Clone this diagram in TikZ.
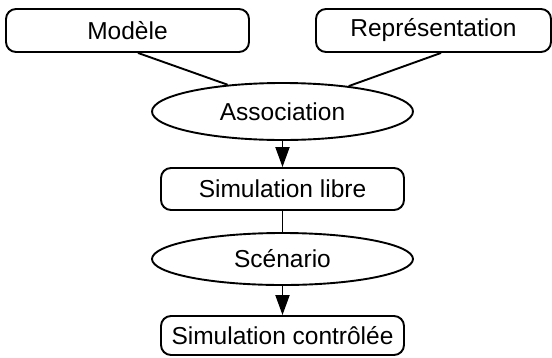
\documentclass[tikz,border=0pt]{standalone}
\usepackage{fontspec}
\setmainfont{Liberation Sans}
\usetikzlibrary{shapes.geometric,arrows.meta}
\begin{document}
\begin{tikzpicture}[x=1pt,y=-1pt,
  every node/.style={font=\fontsize{24.5}{29}\selectfont, inner sep=0pt, line width=1.9pt},
  boxnode/.style={draw, rounded corners=10pt},
  ellnode/.style={draw, ellipse},
  conn/.style={line width=1.9pt},
  arr/.style={line width=1.9pt, -{Triangle[length=20pt,width=14pt]}}]
\useasboundingbox (0,0) rectangle (552,357);
\node[boxnode, minimum width=243pt, minimum height=43pt] (mod) at (127.5,30.5) {Modèle};
\node[boxnode, minimum width=235pt, minimum height=43pt] (rep) at (433.5,30.5) {Représentation};
\node[ellnode, minimum width=261pt, minimum height=57pt] (as) at (282.5,111.5) {Association};
\node[boxnode, minimum width=243pt, minimum height=42pt] (sl) at (282.5,189) {Simulation libre};
\node[ellnode, minimum width=261pt, minimum height=52pt] (sc) at (282.5,259) {Scénario};
\node[boxnode, minimum width=243pt, minimum height=39pt] (sco) at (282.5,335.5) {Simulation contrôlée};
\draw[conn] ([xshift=10.5pt]mod.south) -- (as.154);
\draw[conn] ([xshift=7.5pt]rep.south) -- (as.21);
\draw[arr] (as.south) -- (sl.north);
\draw[conn] (sl.south) -- (sc.north);
\draw[arr] (sc.south) -- (sco.north);
\end{tikzpicture}
\end{document}
